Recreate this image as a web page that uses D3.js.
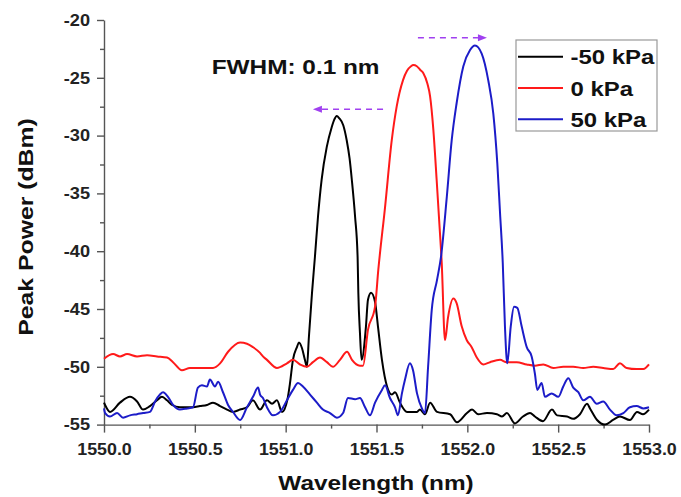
<!DOCTYPE html>
<html>
<head>
<meta charset="utf-8">
<script src="https://cdn.jsdelivr.net/npm/d3@7"></script>
<style>
  html, body { margin: 0; padding: 0; background: #fff; }
  text { font-family: 'Liberation Sans', Arial, sans-serif; font-weight: bold; }
</style>
</head>
<body>
<div class="graph"><svg></svg></div>
<script>
// axis setup
const xDomain = [1550, 1553]
const yDomain = [-55, -20]
const xTicks = [1550.0, 1550.5, 1551.0, 1551.5, 1552.0, 1552.5, 1553.0]
const yTicks = [-55, -50, -45, -40, -35, -30, -25, -20]
const seriesNames = ['-50 kPa', '0 kPa', '50 kPa']
const seriesColors = ['#000000', '#ff1a1a', '#1c1cc8']

// [wavelength (nm), peak power (dBm)]
const blackData = [
  [1550.000, -53.1], [1550.006, -53.3], [1550.033, -53.9], [1550.088, -53.1], [1550.143, -52.6],
  [1550.182, -53.0], [1550.215, -53.7], [1550.253, -53.4], [1550.292, -52.9], [1550.319, -52.6],
  [1550.347, -52.9], [1550.374, -53.3], [1550.418, -53.5], [1550.490, -53.5], [1550.528, -53.4],
  [1550.567, -53.3], [1550.600, -53.1], [1550.639, -53.4], [1550.677, -53.7], [1550.710, -53.9],
  [1550.749, -53.7], [1550.787, -53.5], [1550.820, -52.9], [1550.859, -53.7], [1550.897, -52.9],
  [1550.925, -53.2], [1550.952, -52.9], [1550.980, -53.9], [1551.010, -52.8], [1551.024, -51.4],
  [1551.040, -49.4], [1551.062, -48.3], [1551.073, -47.9], [1551.090, -48.4], [1551.106, -49.4],
  [1551.117, -50.0], [1551.128, -47.4], [1551.145, -43.6], [1551.161, -40.5], [1551.178, -37.0],
  [1551.198, -33.8], [1551.226, -31.0], [1551.253, -29.3], [1551.268, -28.6], [1551.281, -28.3],
  [1551.295, -28.5], [1551.317, -29.1], [1551.336, -30.4], [1551.352, -32.0], [1551.364, -33.8],
  [1551.382, -37.0], [1551.396, -40.5], [1551.400, -43.6], [1551.409, -47.1], [1551.418, -49.4],
  [1551.442, -46.5], [1551.453, -44.2], [1551.470, -43.6], [1551.492, -44.4], [1551.508, -46.5],
  [1551.530, -49.4], [1551.558, -51.7], [1551.585, -52.4], [1551.602, -52.2], [1551.629, -53.1],
  [1551.668, -53.9], [1551.723, -53.9], [1551.739, -53.7], [1551.767, -54.1], [1551.795, -53.1],
  [1551.833, -53.9], [1551.905, -54.1], [1551.943, -54.8], [1551.998, -54.0], [1552.026, -53.7],
  [1552.059, -54.1], [1552.108, -54.0], [1552.163, -54.1], [1552.191, -54.3], [1552.218, -54.0],
  [1552.262, -54.9], [1552.306, -54.3], [1552.345, -54.0], [1552.372, -54.3], [1552.416, -54.7],
  [1552.466, -53.7], [1552.494, -54.2], [1552.549, -54.3], [1552.582, -54.5], [1552.620, -54.1],
  [1552.659, -53.2], [1552.675, -53.6], [1552.714, -54.6], [1552.758, -55.0], [1552.802, -54.6],
  [1552.840, -54.3], [1552.895, -54.6], [1552.934, -53.9], [1552.967, -54.1], [1553.000, -53.7]
]

const redData = [
  [1550.000, -49.3], [1550.050, -48.9], [1550.088, -49.1], [1550.127, -48.9], [1550.182, -49.1],
  [1550.237, -49.0], [1550.292, -49.1], [1550.347, -49.2], [1550.380, -49.6], [1550.429, -50.3],
  [1550.473, -50.1], [1550.528, -50.1], [1550.600, -50.1], [1550.639, -49.7], [1550.683, -48.7],
  [1550.749, -47.9], [1550.787, -48.0], [1550.820, -48.3], [1550.859, -48.8], [1550.875, -49.1],
  [1550.897, -49.4], [1550.952, -50.1], [1551.007, -49.7], [1551.040, -49.4], [1551.079, -49.8],
  [1551.117, -50.0], [1551.150, -49.6], [1551.189, -49.2], [1551.227, -49.6], [1551.260, -50.0],
  [1551.299, -49.4], [1551.338, -48.7], [1551.365, -49.4], [1551.409, -49.9], [1551.426, -49.9],
  [1551.453, -46.8], [1551.492, -44.8], [1551.510, -41.6], [1551.547, -36.2], [1551.584, -30.4],
  [1551.611, -27.5], [1551.646, -25.2], [1551.668, -24.4], [1551.690, -24.0], [1551.703, -23.9],
  [1551.722, -24.0], [1551.740, -24.3], [1551.758, -24.6], [1551.780, -25.5], [1551.795, -26.6],
  [1551.813, -29.5], [1551.831, -33.8], [1551.846, -37.6], [1551.859, -41.0], [1551.877, -47.7],
  [1551.894, -45.7], [1551.923, -44.1], [1551.941, -44.5], [1551.969, -46.5], [1551.997, -47.7],
  [1552.024, -48.3], [1552.052, -49.2], [1552.088, -49.8], [1552.125, -49.6], [1552.180, -49.4],
  [1552.217, -49.6], [1552.272, -49.6], [1552.327, -49.8], [1552.372, -49.9], [1552.418, -49.8],
  [1552.473, -50.1], [1552.528, -50.0], [1552.583, -50.0], [1552.638, -50.1], [1552.693, -50.0],
  [1552.748, -50.1], [1552.803, -50.2], [1552.840, -49.7], [1552.877, -50.1], [1552.932, -50.2],
  [1552.969, -50.2], [1553.000, -49.8]
]

const blueData = [
  [1550.000, -53.6], [1550.006, -54.0], [1550.033, -54.3], [1550.072, -54.0], [1550.105, -54.4],
  [1550.143, -54.2], [1550.182, -54.1], [1550.215, -54.0], [1550.253, -53.9], [1550.281, -53.0],
  [1550.308, -52.4], [1550.325, -52.2], [1550.352, -52.6], [1550.380, -53.3], [1550.418, -53.7],
  [1550.457, -53.6], [1550.490, -53.5], [1550.517, -51.8], [1550.539, -51.6], [1550.567, -51.7],
  [1550.583, -51.1], [1550.611, -51.7], [1550.628, -51.3], [1550.655, -52.2], [1550.683, -53.3],
  [1550.710, -53.9], [1550.749, -54.6], [1550.787, -53.5], [1550.820, -52.6], [1550.848, -51.8],
  [1550.859, -52.4], [1550.875, -52.7], [1550.897, -53.5], [1550.930, -54.2], [1550.969, -53.9],
  [1551.007, -52.9], [1551.040, -52.0], [1551.068, -51.4], [1551.095, -51.7], [1551.134, -52.4],
  [1551.172, -53.1], [1551.205, -53.7], [1551.244, -54.0], [1551.282, -54.4], [1551.316, -54.0],
  [1551.343, -52.7], [1551.382, -52.8], [1551.409, -52.7], [1551.437, -53.5], [1551.464, -54.2],
  [1551.492, -53.1], [1551.530, -52.0], [1551.547, -51.6], [1551.574, -52.7], [1551.602, -53.5],
  [1551.618, -54.2], [1551.640, -52.3], [1551.657, -51.1], [1551.684, -49.7], [1551.701, -50.3],
  [1551.723, -52.3], [1551.750, -53.6], [1551.767, -54.0], [1551.784, -50.0], [1551.804, -45.1],
  [1551.833, -42.5], [1551.855, -40.5], [1551.887, -35.3], [1551.914, -30.4], [1551.941, -27.2],
  [1551.978, -24.0], [1552.015, -22.6], [1552.042, -22.2], [1552.079, -22.9], [1552.115, -25.2],
  [1552.143, -28.1], [1552.165, -32.4], [1552.180, -36.7], [1552.195, -41.0], [1552.207, -46.5],
  [1552.220, -49.7], [1552.239, -46.5], [1552.257, -44.8], [1552.275, -44.9], [1552.299, -46.5],
  [1552.327, -48.3], [1552.354, -49.1], [1552.372, -50.6], [1552.385, -52.0], [1552.409, -51.4],
  [1552.427, -52.6], [1552.464, -52.3], [1552.501, -52.6], [1552.528, -51.7], [1552.556, -51.0],
  [1552.583, -51.8], [1552.611, -52.2], [1552.638, -52.9], [1552.675, -52.6], [1552.712, -53.2],
  [1552.748, -53.0], [1552.785, -53.7], [1552.822, -54.2], [1552.859, -54.0], [1552.895, -53.5],
  [1552.932, -53.4], [1552.969, -53.6], [1553.000, -53.5]
]

// shift arrows: [x start, x end (tip), y]
const leftShift = [1551.536, 1551.150, -27.72]
const rightShift = [1551.728, 1552.108, -21.53]

const width = 681
const height = 497
const margin = { top: 20, right: 32, bottom: 72.4, left: 104 }
const purple = '#a040f0'

/**
 * Widens a text selection a bit, the lettering of the figure is broader than Arial.
 *
 * @param {*} sel The d3 Selection of text elements
 * @param {number} k The horizontal stretch factor
 */
function stretch (sel, k) {
  sel.each(function () {
    const len = this.getComputedTextLength()
    d3.select(this)
      .attr('textLength', len * k)
      .attr('lengthAdjust', 'spacingAndGlyphs')
  })
}

const svg = d3.select('.graph').select('svg')
  .attr('width', width)
  .attr('height', height)

const x = d3.scaleLinear()
  .domain(xDomain)
  .range([margin.left, width - margin.right])

const y = d3.scaleLinear()
  .domain(yDomain)
  .range([height - margin.bottom, margin.top])

// minor ticks first, majors drawn over them
svg.append('g')
  .attr('transform', `translate(0, ${y(yDomain[0])})`)
  .call(d3.axisBottom(x).tickValues(d3.range(1550.25, 1553, 0.5)).tickSize(4).tickFormat(''))
  .call(g => g.select('.domain').remove())

svg.append('g')
  .attr('transform', `translate(${x(xDomain[0])}, 0)`)
  .call(d3.axisLeft(y).tickValues(d3.range(-52.5, -20, 5)).tickSize(4).tickFormat(''))
  .call(g => g.select('.domain').remove())

const xAxis = svg.append('g')
  .attr('class', 'x axis')
  .attr('transform', `translate(0, ${y(yDomain[0])})`)
  .call(d3.axisBottom(x).tickValues(xTicks).tickSize(8).tickSizeOuter(0).tickPadding(11).tickFormat(d3.format('.1f')))

// plain hyphen like the figure, not the unicode minus
const yAxis = svg.append('g')
  .attr('class', 'y axis')
  .attr('transform', `translate(${x(xDomain[0])}, 0)`)
  .call(d3.axisLeft(y).tickValues(yTicks).tickSize(7).tickSizeOuter(0).tickPadding(7).tickFormat(d => String(d)))

svg.selectAll('.tick line, .domain')
  .attr('stroke', '#555')
  .attr('stroke-width', 1.4)

svg.selectAll('.axis .tick text')
  .attr('font-size', 16.5)
  .attr('fill', '#222')
stretch(xAxis.selectAll('.tick text'), 1.08)
stretch(yAxis.selectAll('.tick text'), 1.1)

// axis titles
stretch(svg.append('text')
  .text('Wavelength (nm)')
  .attr('x', 376)
  .attr('y', 490)
  .attr('text-anchor', 'middle')
  .attr('font-size', 21)
  .attr('fill', '#111'), 1.16)

stretch(svg.append('text')
  .text('Peak Power (dBm)')
  .attr('transform', 'translate(33, 227) rotate(-90)')
  .attr('text-anchor', 'middle')
  .attr('font-size', 21)
  .attr('fill', '#111'), 1.18)

// spectra
const line = d3.line()
  .x(d => x(d[0]))
  .y(d => y(d[1]))
  .curve(d3.curveMonotoneX)

const series = [blackData, redData, blueData]
svg.append('g')
  .selectAll('path')
  .data(series)
  .join('path')
  .attr('d', line)
  .attr('fill', 'none')
  .attr('stroke', (d, i) => seriesColors[i])
  .attr('stroke-width', 2)
  .attr('stroke-linejoin', 'round')

// annotation
stretch(svg.append('text')
  .text('FWHM: 0.1 nm')
  .attr('x', x(1550.593))
  .attr('y', y(-24.67))
  .attr('font-size', 21)
  .attr('fill', '#111'), 1.16)

/**
 * Draws a dashed purple arrow showing the direction of the shift.
 *
 * @param {number[]} arrow Start wavelength, tip wavelength and level
 */
function drawArrow (arrow) {
  const x0 = x(arrow[0])
  const x1 = x(arrow[1])
  const yy = y(arrow[2])
  const dir = Math.sign(x1 - x0)
  const head = 9
  svg.append('line')
    .attr('x1', x0)
    .attr('x2', x1 - dir * head)
    .attr('y1', yy)
    .attr('y2', yy)
    .attr('stroke', purple)
    .attr('stroke-width', 1.6)
    .attr('stroke-dasharray', '6,5')
  svg.append('path')
    .attr('d', `M${x1},${yy} L${x1 - dir * head},${yy - 3.5} L${x1 - dir * head},${yy + 3.5} Z`)
    .attr('fill', purple)
}

drawArrow(leftShift)
drawArrow(rightShift)

// legend
const legend = svg.append('g')
  .attr('transform', 'translate(516, 40)')

legend.append('rect')
  .attr('width', 141)
  .attr('height', 91)
  .attr('fill', '#fff')
  .attr('stroke', '#999')
  .attr('stroke-width', 1.2)

const items = legend.selectAll('g.item')
  .data(seriesNames)
  .join('g')
  .attr('class', 'item')
  .attr('transform', (d, i) => `translate(0, ${24.3 + i * 31.2})`)

items.append('line')
  .attr('x1', 2)
  .attr('x2', 47)
  .attr('y1', -7.5)
  .attr('y2', -7.5)
  .attr('stroke', (d, i) => seriesColors[i])
  .attr('stroke-width', 2)

stretch(items.append('text')
  .text(d => d)
  .attr('x', 54.5)
  .attr('font-size', 21)
  .attr('fill', '#111'), 1.14)
</script>
</body>
</html>
